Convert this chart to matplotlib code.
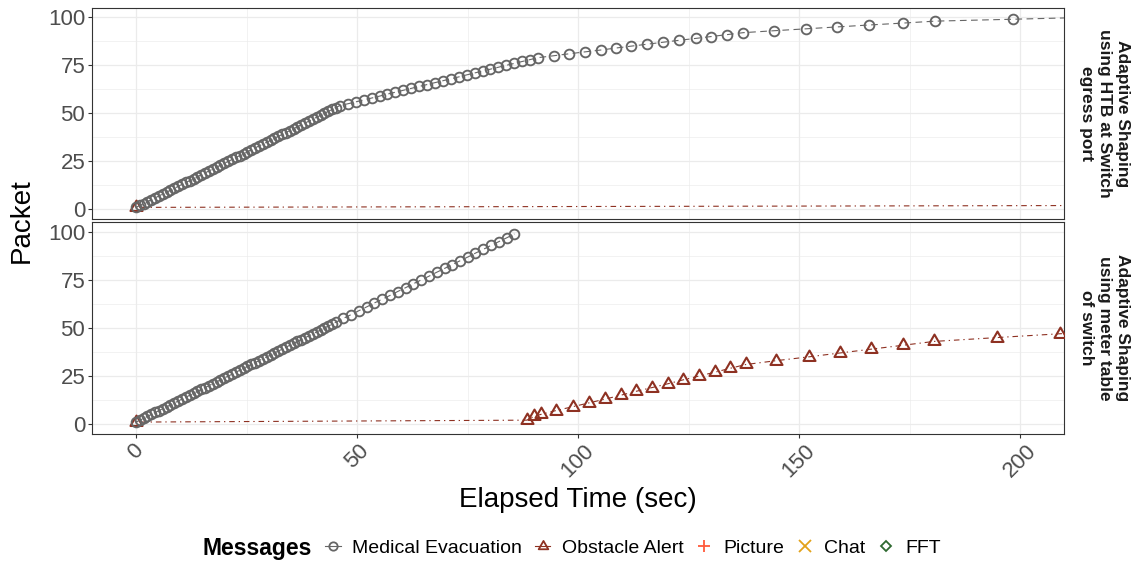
import matplotlib
matplotlib.use("Agg")
import matplotlib.pyplot as plt
from matplotlib.lines import Line2D
from matplotlib.path import Path
from matplotlib.ticker import MultipleLocator

plt.rcParams["font.family"] = ["Liberation Sans", "DejaVu Sans"]

panels = [
    "Adaptive Shaping\nusing HTB at Switch\negress port",
    "Adaptive Shaping\nusing meter table\nof switch",
]
messages = ["Medical Evacuation", "Obstacle Alert", "Picture", "Chat", "FFT"]

# HTB shaping: elapsed time (sec) of each received packet
htb_medevac_t = [
    0.0, 0.9, 1.7, 2.6, 3.5, 4.4, 5.2, 6.1, 7.0, 7.8, 8.7, 9.6, 10.4, 11.3,
    12.2, 13.1, 13.9, 14.8, 15.7, 16.5, 17.4, 18.3, 19.1, 20.0, 20.9, 21.8,
    22.6, 23.5, 24.4, 25.2, 26.1, 27.0, 27.8, 28.7, 29.6, 30.5, 31.3, 32.2,
    33.1, 33.9, 34.8, 35.7, 36.5, 37.4, 38.3, 39.2, 40.0, 40.9, 41.8, 42.6,
    43.5, 44.4, 45.2, 46.1,
    48.0, 49.8, 51.6, 53.4, 55.2, 56.9, 58.7, 60.5, 62.3, 64.1, 65.9, 67.7,
    69.5, 71.3, 73.1, 74.8, 76.6, 78.4, 80.2, 82.0, 83.8, 85.6, 87.4, 89.2,
    91.0,
    94.6, 98.0, 101.6, 105.3, 108.6, 112.1, 115.7, 119.2, 122.8, 126.6,
    130.2, 133.8, 137.4, 144.3, 151.6, 158.7, 165.9, 173.6, 180.8, 198.5,
    216.0,
]
htb_medevac_p = list(range(1, 101))
htb_obstacle_t = [0.0, 222.0]
htb_obstacle_p = [1, 2]

# meter table shaping
meter_medevac_t = [
    0.0, 0.9, 1.7, 2.6, 3.5, 4.4, 5.2, 6.1, 7.0, 7.8, 8.7, 9.6, 10.4, 11.3,
    12.2, 13.1, 13.9, 14.8, 15.7, 16.5, 17.4, 18.3, 19.1, 20.0, 20.9, 21.8,
    22.6, 23.5, 24.4, 25.2, 26.1, 27.0, 27.8, 28.7, 29.6, 30.5, 31.3, 32.2,
    33.1, 33.9, 34.8, 35.7, 36.5, 37.4, 38.3, 39.2, 40.0, 40.9, 41.8, 42.6,
    43.5, 44.4, 45.2,
    46.9, 48.7, 50.4, 52.2, 53.9, 55.7, 57.5, 59.2, 61.0, 62.7, 64.5, 66.3,
    68.0, 69.8, 71.5, 73.3, 75.1, 76.8, 78.6, 80.3, 82.1, 83.9, 85.6,
]
meter_medevac_p = list(range(1, 54)) + list(range(55, 100, 2))
meter_obstacle_t = [
    0.0, 88.4, 90.1, 91.6, 95.0, 98.8, 102.5, 106.2, 109.7, 113.1, 116.8,
    120.4, 123.8, 127.4, 131.0, 134.4, 138.0, 144.9, 152.3, 159.3, 166.4,
    173.5, 180.5, 194.7, 209.0, 222.0,
]
meter_obstacle_p = [1, 2, 4, 5] + list(range(7, 50, 2))

grey = "#666666"
red = "#8E3122"
legend_colors = [grey, red, "#FF5A3C", "#E3A21A", "#2E6930"]

# triangle centred on its centroid, like R's pch 2
tri = Path([(0, 1), (-0.866, -0.5), (0.866, -0.5), (0, 1)],
           [Path.MOVETO, Path.LINETO, Path.LINETO, Path.CLOSEPOLY])

series = [
    [(htb_medevac_t, htb_medevac_p), (htb_obstacle_t, htb_obstacle_p)],
    [(meter_medevac_t, meter_medevac_p), (meter_obstacle_t, meter_obstacle_p)],
]

fig = plt.figure(figsize=(11.34, 5.63), dpi=100)
W, H = 1134, 563
left, right = 91.8 / W, 1064.2 / W
boxes = [(7.7, 218.9), (222.4, 433.6)]

axes = []
for i, (top, bot) in enumerate(boxes):
    ax = fig.add_axes([left, 1 - bot / H, right - left, (bot - top) / H])
    axes.append(ax)
    (mt, mp), (ot, op) = series[i]
    ax.plot(ot, op, color=red, lw=0.8, dashes=(1.2, 3.5, 5, 3.5),
            marker=tri, ms=10, mfc="none", mec=red, mew=1.5, zorder=3)
    ax.plot(mt, mp, color=grey, lw=0.8, dashes=(6, 4),
            marker="o", ms=7, mfc="none", mec=grey, mew=1.35, zorder=4)
    ax.set_xlim(-10, 210)
    ax.set_ylim(-5, 105)
    ax.xaxis.set_major_locator(MultipleLocator(50))
    ax.xaxis.set_minor_locator(MultipleLocator(25))
    ax.yaxis.set_major_locator(MultipleLocator(25))
    ax.yaxis.set_minor_locator(MultipleLocator(12.5))
    ax.grid(True, which="major", color="#EBEBEB", lw=0.9, zorder=0)
    ax.grid(True, which="minor", color="#EBEBEB", lw=0.45, zorder=0)
    ax.set_axisbelow(True)
    for s in ax.spines.values():
        s.set_color("#333333")
        s.set_linewidth(0.8)
    ax.tick_params(which="minor", length=0)
    ax.tick_params(which="major", length=2.8, width=0.8, color="#333333",
                   labelsize=16, labelcolor="#4D4D4D", pad=2)
    ax.text(1.0415, 0.5, panels[i], transform=ax.transAxes, rotation=-90,
            ha="center", va="center", multialignment="center",
            fontsize=12.5, fontweight="bold", color="#1A1A1A",
            linespacing=1.25)

axes[0].tick_params(axis="x", labelbottom=False, length=0)
for lab in axes[1].get_xticklabels():
    lab.set_rotation(45)
    lab.set_ha("center")
    lab.set_va("top")

axes[1].set_xlabel("Elapsed Time (sec)", fontsize=20, labelpad=4)
fig.text(22 / W, 1 - 220.6 / H, "Packet", rotation=90, fontsize=20,
         ha="center", va="center")

markers = ["o", tri, "+", "x", "D"]
handles = []
for name, m, c in zip(messages, markers, legend_colors):
    has_line = name in ("Medical Evacuation", "Obstacle Alert")
    ms = {"o": 6, "D": 5.5}.get(m, 9) if isinstance(m, str) else 8
    handles.append(Line2D([], [], color=c, lw=0.8 if has_line else 0,
                          marker=m, ms=ms, mfc="none", mec=c, mew=1.3))

fig.text(202 / W, 1 - 548 / H, "Messages", fontsize=16.5, fontweight="bold",
         ha="left", va="center")
fig.legend(handles, messages, loc="center left",
           bbox_to_anchor=(325 / W, 1 - 548 / H), ncol=5, frameon=False,
           fontsize=14, handlelength=0.8, handletextpad=0.6,
           columnspacing=0.65, borderpad=0, borderaxespad=0)

fig.savefig("out.png", dpi=100)
